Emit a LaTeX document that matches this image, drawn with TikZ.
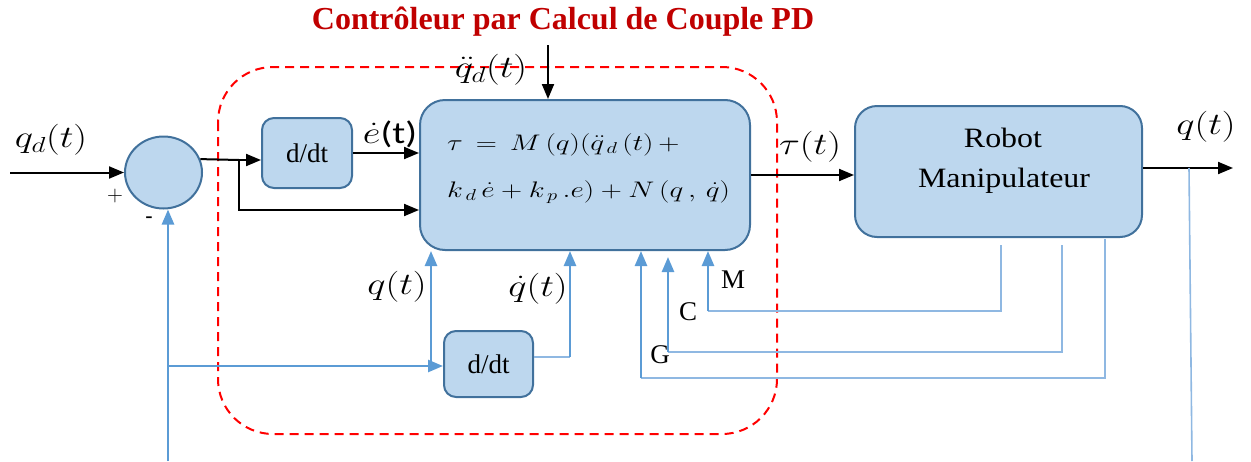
\RequirePackage{fix-cm}
\documentclass[tikz,border=0pt]{standalone}
\usepackage{graphicx}
\usepackage{fontspec}
\setmainfont{Liberation Serif}
\newfontfamily\robotfont[FakeStretch=1.14]{Liberation Serif}
\newfontfamily\calfont{Carlito}
\usetikzlibrary{arrows.meta,shapes.geometric}
\definecolor{boxfill}{HTML}{BDD7EE}
\definecolor{boxdraw}{HTML}{41719C}
\definecolor{fbblue}{HTML}{5B9BD5}
\definecolor{thinblue}{HTML}{8FB8E2}
\definecolor{titlered}{HTML}{C00000}
\newcommand{\wm}[1]{\scalebox{1.25}[1]{#1}}
\tikzset{
  blk/.style={draw=boxdraw, fill=boxfill, line width=2pt, inner sep=0pt},
  sig/.style={line width=2pt, -{Triangle[length=15pt,width=12pt]}},
  plainsig/.style={line width=2pt},
  fbarrow/.style={draw=fbblue, line width=2.5pt, -{Triangle[length=15pt,width=12pt]}},
  fbline/.style={draw=thinblue, line width=1.6pt},
  mlabel/.style={font=\fontsize{31}{34}\selectfont, inner sep=0pt},
  tlabel/.style={font=\fontsize{27}{30}\selectfont, inner sep=0pt},
  redbox/.style={draw=red, line width=2pt, dash pattern=on 9pt off 6pt, rounded corners=55pt}
}
\begin{document}
\begin{tikzpicture}[x=1pt,y=-1pt]
\useasboundingbox (0,0) rectangle (1251,461);

% title
\node[anchor=base, inner sep=0pt, text=titlered, font=\fontsize{32}{36}\selectfont\bfseries] (title) at (563,29) {Contrôleur par Calcul de Couple PD};

% red dashed controller frame
\draw[redbox] (218,67) rectangle (777,434);

% blocks
\node[blk, ellipse, minimum width=77pt, minimum height=72pt] (sum) at (163.5,172.5) {};
\node[blk, rounded corners=12pt, minimum width=90pt, minimum height=70pt, tlabel] (dd1) at (307,153) {d/dt};
\node[blk, rounded corners=25pt, minimum width=330pt, minimum height=150pt] (ctrl) at (585,175) {};
\node[blk, rounded corners=22pt, minimum width=287pt, minimum height=131pt] (robot) at (998.5,171.5) {};
\node[blk, rounded corners=12pt, minimum width=89pt, minimum height=66pt, tlabel] (dd2) at (488.5,364) {d/dt};

% formula inside controller
\node[anchor=base west, inner sep=0pt, font=\fontsize{22.5}{26}\selectfont] (f1) at (447,150)
  {\scalebox{1.3}[1]{$\tau\,=\,M\,(q)(\ddot q_{\,d}\,(t)\,+$}};
\node[anchor=base west, inner sep=0pt, font=\fontsize{22.5}{26}\selectfont] (f2) at (447,197)
  {\scalebox{1.3}[1]{$k_{\,d}\,\dot e + k_{\,p}\,.e) + N\,(q\,,\,\dot q)$}};

% robot text
\node[anchor=base, inner sep=0pt, font=\fontsize{28}{32}\selectfont\robotfont] (r1) at (1003,147) {Robot};
\node[anchor=base, inner sep=0pt, font=\fontsize{28}{32}\selectfont\robotfont] (r2) at (1004,187) {Manipulateur};

% coordinates
\coordinate (in) at (10,172.5);
\coordinate (br) at (239,160);
\coordinate (b1) at (239,210);
\coordinate (qdd) at (548,45);
\coordinate (out) at (1233,168);
\coordinate (fbtop) at (1189,168);
\coordinate (fbbot) at (1192,461);
\coordinate (fbl) at (168,461);
\coordinate (h) at (168,366);
\coordinate (qb) at (431,366);
\coordinate (qdl) at (570,357);
\coordinate (m1) at (1001,245);
\coordinate (m2) at (1001,311);
\coordinate (m3) at (708,311);
\coordinate (c1) at (1062,245);
\coordinate (c2) at (1062,352);
\coordinate (c3) at (668,352);
\coordinate (c4) at (668,257);
\coordinate (g1) at (1105,239);
\coordinate (g2) at (1105,378);
\coordinate (g3) at (641,378);

% black signals
\draw[sig] (in) -- (sum.west);
\draw[plainsig] (sum.20) -- (br);
\draw[sig] (br) -- (dd1.west |- br);
\draw[sig] (br) -- (b1) -- (ctrl.west |- b1);
\draw[sig] (dd1.east) -- (ctrl.west |- dd1.east);
\draw[sig] (qdd) -- (ctrl.north -| qdd);
\draw[sig] (ctrl.east) -- (robot.west |- ctrl.east);
\draw[sig] (robot.east |- out) -- (out);

% blue feedback
\draw[fbline] (fbtop) -- (fbbot);
\draw[fbarrow] (fbl) -- (sum.south -| fbl);
\draw[fbarrow] (h) -- (dd2.west |- h);
\draw[fbarrow] (qb) -- (ctrl.south -| qb);
\draw[fbline] (dd2.east |- qdl) -- (qdl);
\draw[fbarrow] (qdl) -- (ctrl.south -| qdl);
\draw[fbline] (m1) -- (m2) -- (m3);
\draw[fbarrow] (m3) -- (ctrl.south -| m3);
\draw[fbline] (c1) -- (c2) -- (c3);
\draw[fbarrow] (c3) -- (c4);
\draw[fbline] (g1) -- (g2) -- (g3);
\draw[fbarrow] (g3) -- (ctrl.south -| g3);

% labels
\node[mlabel] (lqd) at (51,140) {\wm{$q_d(t)$}};
\node[inner sep=0pt, font=\fontsize{22}{26}\selectfont] (lplus) at (115,196) {$+$};
\node[inner sep=0pt, font=\fontsize{24}{28}\selectfont\calfont] (lminus) at (149,221) {-};
\node[mlabel] (ledot) at (390,134) {\wm{$\dot e$\calfont(t)}};
\node[mlabel] (lqdd) at (491,70) {\wm{$\ddot q_d(t)$}};
\node[mlabel] (ltau) at (810,147) {\wm{$\tau(t)$}};
\node[mlabel] (lq) at (1206,127) {\wm{$q(t)$}};
\node[mlabel] (lqt) at (397,287) {\wm{$q(t)$}};
\node[mlabel] (lqdot) at (538,289) {\wm{$\dot q(t)$}};
\node[tlabel] (lM) at (733,280) {M};
\node[tlabel] (lC) at (688,312) {C};
\node[tlabel] (lG) at (660,355) {G};
\end{tikzpicture}
\end{document}
